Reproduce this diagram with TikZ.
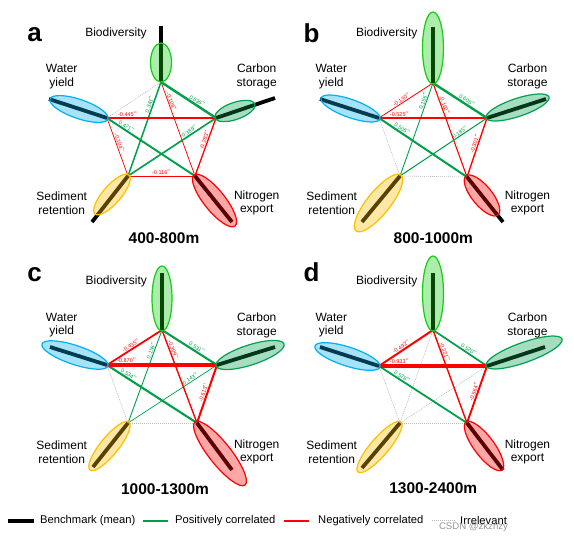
\documentclass[tikz,border=0pt]{standalone}
\usepackage{fontspec}
\setmainfont{Liberation Sans}
\usetikzlibrary{calc}
\definecolor{posg}{RGB}{0,160,75}
\definecolor{negr}{RGB}{255,0,0}
\definecolor{irrg}{RGB}{185,185,185}
\definecolor{biocol}{RGB}{20,205,20}
\definecolor{cscol}{RGB}{0,160,80}
\definecolor{wycol}{RGB}{0,176,240}
\definecolor{srcol}{RGB}{255,190,0}
\definecolor{necol}{RGB}{255,0,0}
\definecolor{wmark}{RGB}{150,150,150}
\tikzset{
 poslink/.style={color=posg},
 neglink/.style={color=negr},
 irrlink/.style={color=irrg, line width=0.6pt, dash pattern=on 1pt off 1pt},
 rlabel/.style={font=\fontsize{5.5}{6}\selectfont, inner sep=0.6pt, sloped, above},
 benchbar/.style={line width=3.8pt, black},
 ellbio/.style={draw=biocol, fill=biocol, fill opacity=0.35, line width=1.2pt},
 ellcs/.style={draw=cscol, fill=cscol, fill opacity=0.35, line width=1.2pt},
 ellwy/.style={draw=wycol, fill=wycol, fill opacity=0.35, line width=1.2pt},
 ellsr/.style={draw=srcol, fill=srcol, fill opacity=0.35, line width=1.2pt},
 ellne/.style={draw=necol, fill=necol, fill opacity=0.35, line width=1.2pt},
 svlabel/.style={font=\fontsize{12}{13.5}\selectfont, align=center, inner sep=0pt},
 paneltag/.style={font=\fontsize{26}{26}\selectfont\bfseries, anchor=base, inner sep=0pt},
 rangetitle/.style={font=\fontsize{15.5}{16}\selectfont\bfseries, inner sep=0pt},
 legtext/.style={font=\fontsize{11.2}{12}\selectfont, anchor=west, inner sep=0pt},
}
\newcommand{\lnk}[6]{\draw[#1, line width=#4pt] (#2) -- node[rlabel, pos=#5] (#2#3l) {#6\textsuperscript{**}} (#3);}
\newcommand{\irr}[2]{\draw[irrlink] (#1) -- (#2);}
\newcommand{\svell}[6]{%
 \pgfmathsetmacro\cx{(#2+#4)/2}\pgfmathsetmacro\cy{(#3+#5)/2}%
 \pgfmathsetmacro\ang{atan2(-(#5-#3),#4-#2)}%
 \pgfmathsetmacro\maj{veclen(#4-#2,#5-#3)/2}%
 \draw[#1, shift={(\cx,\cy)}, rotate=\ang] (0,0) ellipse[x radius=\maj pt, y radius=#6 pt];}
\begin{document}
\begin{tikzpicture}[x=1pt,y=-1pt]
\fill[white] (0,0) rectangle (574,543);
\useasboundingbox (0,0) rectangle (574,543);

% ---------------- panel a ----------------
\coordinate (aB) at (161,82); \coordinate (aC) at (216,118); \coordinate (aW) at (107,118);
\coordinate (aS) at (128,176); \coordinate (aN) at (195,176);
\coordinate (aBb) at (161,26); \coordinate (aCb) at (275,98); \coordinate (aWb) at (49,99);
\coordinate (aSb) at (92,222); \coordinate (aNb) at (232,222);
\irr{aB}{aW}
\lnk{neglink}{aW}{aS}{0.73}{0.45}{-0.104}
\lnk{neglink}{aS}{aN}{0.77}{0.5}{-0.116}
\lnk{neglink}{aB}{aN}{0.75}{0.22}{-0.108}
\lnk{neglink}{aC}{aN}{1.31}{0.4}{-0.283}
\lnk{poslink}{aB}{aS}{1.5}{0.25}{0.343}
\lnk{poslink}{aC}{aS}{1.64}{0.28}{0.389}
\lnk{neglink}{aW}{aC}{1.82}{0.19}{-0.445}
\lnk{poslink}{aW}{aN}{1.91}{0.2}{0.471}
\lnk{poslink}{aB}{aC}{2.44}{0.62}{0.636}
\draw[benchbar] (aB) -- (aBb); \draw[benchbar] (aC) -- (aCb); \draw[benchbar] (aW) -- (aWb);
\draw[benchbar] (aS) -- (aSb); \draw[benchbar] (aN) -- (aNb);
\svell{ellbio}{161}{82}{161}{43}{10.5}
\svell{ellcs}{215}{118}{255}{104}{8.5}
\svell{ellwy}{108}{119}{50}{99}{9.5}
\svell{ellsr}{129}{175}{95}{214}{9}
\svell{ellne}{194}{175}{235}{226}{10.5}
\node[svlabel] (aBio) at (116,33) {Biodiversity};
\node[svlabel] (aWy) at (61.7,76.5) {Water\\yield};
\node[svlabel] (aCs) at (256.7,76.5) {Carbon\\storage};
\node[svlabel] (aSr) at (61.7,203) {Sediment\\retention};
\node[svlabel] (aNe) at (256.7,203) {Nitrogen\\export};
\node[rangetitle] (aT) at (164,238) {400-800m};
\node[paneltag] (aTag) at (34.5,42) {a};

% ---------------- panel b ----------------
\coordinate (bB) at (433,83); \coordinate (bC) at (487,118); \coordinate (bW) at (379,118);
\coordinate (bS) at (400,176); \coordinate (bN) at (467,177);
\coordinate (bBb) at (433,27); \coordinate (bCb) at (546,99); \coordinate (bWb) at (320,99);
\coordinate (bSb) at (362,222); \coordinate (bNb) at (503,222);
\irr{bW}{bS} \irr{bS}{bN}
\lnk{neglink}{bB}{bW}{0.82}{0.55}{-0.130}
\lnk{poslink}{bB}{bS}{0.9}{0.2}{0.156}
\lnk{neglink}{bB}{bN}{1.1}{0.25}{-0.162}
\lnk{poslink}{bC}{bS}{0.99}{0.29}{0.185}
\lnk{neglink}{bC}{bN}{1.36}{0.45}{-0.301}
\lnk{neglink}{bW}{bC}{2.08}{0.19}{-0.525}
\lnk{poslink}{bW}{bN}{2.02}{0.24}{0.505}
\lnk{poslink}{bB}{bC}{2.34}{0.59}{0.606}
\draw[benchbar] (bB) -- (bBb); \draw[benchbar] (bC) -- (bCb); \draw[benchbar] (bW) -- (bWb);
\draw[benchbar] (bS) -- (bSb); \draw[benchbar] (bN) -- (bNb);
\svell{ellbio}{433}{84}{433}{12}{10.5}
\svell{ellcs}{486}{118}{549}{97}{9}
\svell{ellwy}{380}{119}{321}{98}{9}
\svell{ellsr}{401}{175}{356}{231}{11.5}
\svell{ellne}{466}{176}{498}{215}{10}
\node[svlabel] (bBio) at (386.7,33.3) {Biodiversity};
\node[svlabel] (bWy) at (331.3,76.5) {Water\\yield};
\node[svlabel] (bCs) at (527.5,76.5) {Carbon\\storage};
\node[svlabel] (bSr) at (331.7,203) {Sediment\\retention};
\node[svlabel] (bNe) at (527.5,203) {Nitrogen\\export};
\node[rangetitle] (bT) at (433.3,238) {800-1000m};
\node[paneltag] (bTag) at (311.5,42.5) {b};

% ---------------- panel c ----------------
\coordinate (cB) at (162,330); \coordinate (cC) at (217,365); \coordinate (cW) at (107,365);
\coordinate (cS) at (128,423); \coordinate (cN) at (197,423);
\coordinate (cBb) at (162,273); \coordinate (cCb) at (275,347); \coordinate (cWb) at (50,347);
\coordinate (cSb) at (93,467); \coordinate (cNb) at (232,470);
\irr{cW}{cS} \irr{cS}{cN}
\lnk{poslink}{cB}{cS}{0.9}{0.23}{0.156}
\lnk{poslink}{cC}{cS}{0.7}{0.28}{0.143}
\lnk{neglink}{cB}{cN}{1.39}{0.23}{-0.309}
\lnk{neglink}{cB}{cW}{1.79}{0.53}{-0.435}
\lnk{neglink}{cC}{cN}{2.04}{0.5}{-0.513}
\lnk{poslink}{cW}{cN}{2.11}{0.22}{0.534}
\lnk{poslink}{cB}{cC}{2.1}{0.6}{0.531}
\lnk{neglink}{cW}{cC}{3.18}{0.18}{-0.870}
\draw[benchbar] (cB) -- (cBb); \draw[benchbar] (cC) -- (cCb); \draw[benchbar] (cW) -- (cWb);
\draw[benchbar] (cS) -- (cSb); \draw[benchbar] (cN) -- (cNb);
\svell{ellbio}{162}{331}{162}{266}{10}
\svell{ellcs}{216}{366}{284}{344}{10}
\svell{ellwy}{108}{366}{42}{344}{9.5}
\svell{ellsr}{129}{422}{90}{470}{9}
\svell{ellne}{195}{422}{245}{485}{11}
\node[svlabel] (cBio) at (116.3,281.7) {Biodiversity};
\node[svlabel] (cWy) at (61.7,325.3) {Water\\yield};
\node[svlabel] (cCs) at (256.7,325.3) {Carbon\\storage};
\node[svlabel] (cSr) at (61.7,452) {Sediment\\retention};
\node[svlabel] (cNe) at (256.7,452) {Nitrogen\\export};
\node[rangetitle] (cT) at (165,489) {1000-1300m};
\node[paneltag] (cTag) at (34.5,281) {c};

% ---------------- panel d ----------------
\coordinate (dB) at (433,330); \coordinate (dC) at (487,366); \coordinate (dW) at (379,366);
\coordinate (dS) at (400,423); \coordinate (dN) at (467,423);
\coordinate (dBb) at (433,273); \coordinate (dCb) at (545,347); \coordinate (dWb) at (320,347);
\coordinate (dSb) at (362,468); \coordinate (dNb) at (503,470);
\irr{dB}{dS} \irr{dW}{dS} \irr{dC}{dS} \irr{dS}{dN}
\lnk{neglink}{dB}{dN}{1.43}{0.25}{-0.321}
\lnk{neglink}{dB}{dW}{1.97}{0.55}{-0.492}
\lnk{poslink}{dB}{dC}{1.7}{0.63}{0.520}
\lnk{neglink}{dC}{dN}{1.9}{0.47}{-0.564}
\lnk{poslink}{dW}{dN}{1.8}{0.24}{0.578}
\lnk{neglink}{dW}{dC}{3.39}{0.19}{-0.933}
\draw[benchbar] (dB) -- (dBb); \draw[benchbar] (dC) -- (dCb); \draw[benchbar] (dW) -- (dWb);
\draw[benchbar] (dS) -- (dSb); \draw[benchbar] (dN) -- (dNb);
\svell{ellbio}{433}{331}{433}{256}{10.5}
\svell{ellcs}{486}{366}{562}{339}{10}
\svell{ellwy}{380}{367}{315}{346}{9.5}
\svell{ellsr}{401}{422}{358}{472}{9}
\svell{ellne}{466}{422}{502}{470}{10}
\node[svlabel] (dBio) at (386.7,281.7) {Biodiversity};
\node[svlabel] (dWy) at (331.3,325.3) {Water\\yield};
\node[svlabel] (dCs) at (527.5,325.3) {Carbon\\storage};
\node[svlabel] (dSr) at (331.7,452) {Sediment\\retention};
\node[svlabel] (dNe) at (527.5,452) {Nitrogen\\export};
\node[rangetitle] (dT) at (433.3,488.3) {1300-2400m};
\node[paneltag] (dTag) at (311.5,281.5) {d};

% ---------------- legend ----------------
\coordinate (lg1a) at (8,520.7); \coordinate (lg1b) at (34,520.7);
\coordinate (lg2a) at (143,520.7); \coordinate (lg2b) at (168,520.7);
\coordinate (lg3a) at (284,520.7); \coordinate (lg3b) at (309,520.7);
\coordinate (lg4a) at (432,520.7); \coordinate (lg4b) at (455,520.7);
\draw[benchbar] (lg1a) -- (lg1b);
\draw[poslink, line width=1.8pt] (lg2a) -- (lg2b);
\draw[neglink, line width=1.8pt] (lg3a) -- (lg3b);
\draw[irrlink] (lg4a) -- (lg4b);
\node[legtext] (lgt1) at (40,520.7) {Benchmark (mean)};
\node[legtext] (lgt2) at (175,520.7) {Positively correlated};
\node[legtext] (lgt3) at (318,520.7) {Negatively correlated};
\node[legtext] (lgt4) at (460,520.7) {Irrelevant};
\node[font=\fontsize{9.6}{10}\selectfont, text=wmark, inner sep=0pt] (wm) at (473.5,527.5) {CSDN @zkznzy};
\end{tikzpicture}
\end{document}
